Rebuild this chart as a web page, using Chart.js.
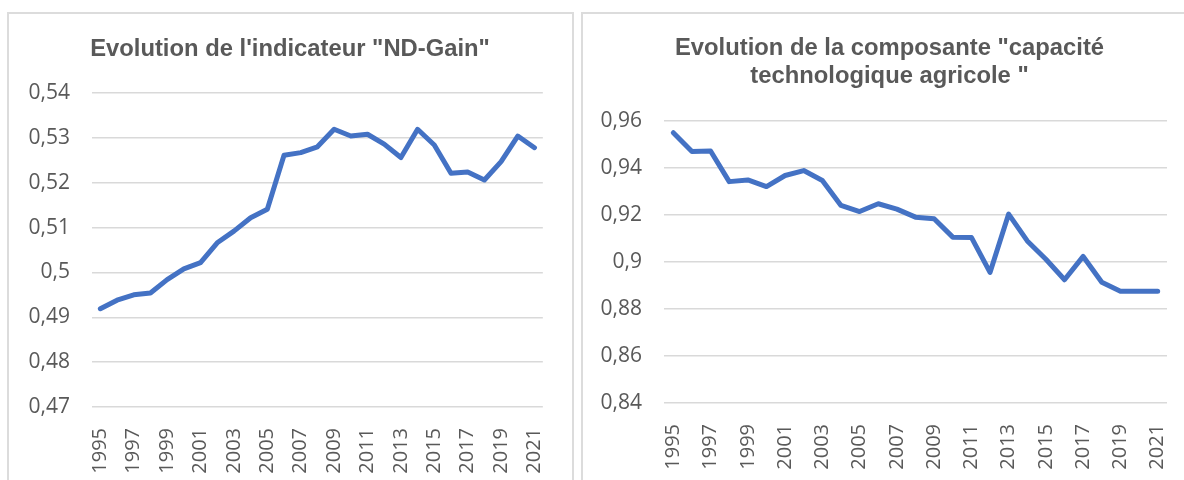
<!DOCTYPE html>
<html>
<head>
<meta charset="utf-8">
<script src="https://cdn.jsdelivr.net/npm/chart.js@4"></script>
<style>
  html, body { margin: 0; padding: 0; background: #fff; overflow: hidden; }
  body { width: 1184px; height: 480px; position: relative; }
  .panel { position: absolute; top: 12px; height: 490px; border: 2px solid #dcdcdc; box-sizing: border-box; }
  canvas { position: absolute; }
</style>
</head>
<body>
<div class="panel" style="left:7px; width:567px;"></div>
<div class="panel" style="left:581px; width:640px;"></div>
<canvas id="gain" width="564" height="467" style="left:8px; top:13px;"></canvas>
<canvas id="tech" width="615" height="467" style="left:582px; top:13px;"></canvas>
<script>
const years = ['1995', '1996', '1997', '1998', '1999', '2000', '2001', '2002', '2003', '2004',
  '2005', '2006', '2007', '2008', '2009', '2010', '2011', '2012', '2013', '2014',
  '2015', '2016', '2017', '2018', '2019', '2020', '2021'];

const ndGain = [0.4919, 0.4938, 0.4950, 0.4954, 0.4984, 0.5008, 0.5022, 0.5066, 0.5092, 0.5122,
  0.5141, 0.5261, 0.5267, 0.5280, 0.5319, 0.5304, 0.5308, 0.5286, 0.5256, 0.5319,
  0.5284, 0.5221, 0.5224, 0.5206, 0.5247, 0.5304, 0.5278];

const capTech = [0.9549, 0.9469, 0.9471, 0.9341, 0.9348, 0.9320, 0.9367, 0.9388, 0.9346, 0.9240,
  0.9214, 0.9247, 0.9224, 0.9190, 0.9183, 0.9105, 0.9104, 0.8955, 0.9203, 0.9089,
  0.9011, 0.8924, 0.9023, 0.8913, 0.8875, 0.8875, 0.8875];

const gainTicks = [0.47, 0.48, 0.49, 0.5, 0.51, 0.52, 0.53, 0.54];
const techTicks = [0.84, 0.86, 0.88, 0.9, 0.92, 0.94, 0.96];

const blue = '#4472c4';
const grey = '#595959';

function frNumber(v) {
  return String(Number(v.toFixed(2))).replace('.', ',');
}

function makeChart(id, title, values, ticks, opts) {
  return new Chart(document.getElementById(id), {
    type: 'line',
    data: {
      labels: years,
      datasets: [{
        data: values,
        borderColor: blue,
        borderWidth: 5,
        pointRadius: 0,
        tension: 0,
        borderJoinStyle: 'round',
        borderCapStyle: 'round'
      }]
    },
    options: {
      responsive: false,
      animation: false,
      plugins: {
        legend: { display: false },
        tooltip: { enabled: false },
        title: {
          display: true,
          text: title,
          color: grey,
          font: { family: 'Liberation Sans', size: 23.8, weight: 'bold', lineHeight: opts.titleLine },
          padding: { top: opts.titleTop, bottom: opts.titleBottom }
        }
      },
      scales: {
        x: {
          offset: true,
          grid: { display: false },
          border: { display: false },
          ticks: {
            autoSkip: false,
            maxRotation: 90,
            minRotation: 90,
            padding: 13,
            color: grey,
            font: { family: 'Open Sans', size: 20 },
            callback: function (v, i) { return i % 2 === 0 ? years[i] : ''; }
          },
          afterFit: function (s) { s.height = opts.xHeight; }
        },
        y: {
          min: ticks[0],
          max: ticks[ticks.length - 1],
          afterBuildTicks: function (s) { s.ticks = ticks.map(function (t) { return { value: t }; }); },
          grid: { color: '#d9d9d9', lineWidth: 1.5, drawTicks: false },
          border: { display: false },
          ticks: {
            padding: 22,
            color: grey,
            font: { family: 'Open Sans', size: 21 },
            callback: function (v) { return frNumber(v); }
          },
          afterFit: function (s) { s.width = opts.yWidth; }
        },
        // empty right axis: keeps the plot off the right edge and the title centred
        spacer: {
          position: 'right',
          grid: { display: false },
          border: { display: false },
          ticks: { display: false },
          afterFit: function (s) { s.width = opts.right; }
        }
      }
    }
  });
}

makeChart('gain', 'Evolution de l\'indicateur "ND-Gain"', ndGain, gainTicks,
  { right: 28, yWidth: 84, xHeight: 73, titleTop: 22, titleBottom: 29.4, titleLine: 1.2 });

makeChart('tech', ['Evolution de la composante "capacité', 'technologique agricole "'], capTech, techTicks,
  { right: 30, yWidth: 82, xHeight: 77, titleTop: 22, titleBottom: 30, titleLine: 1.17 });
</script>
</body>
</html>
